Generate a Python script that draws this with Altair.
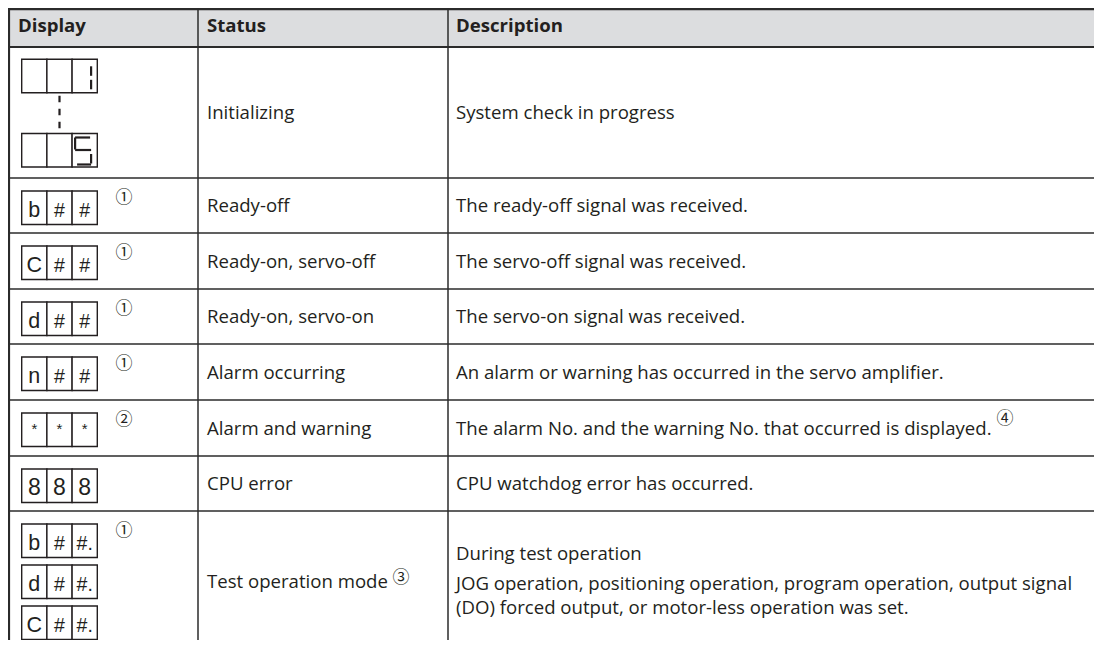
import altair as alt
import pandas as pd

# ---------------- content ----------------
headers = ["Display", "Status", "Description"]

# display column: stacked displays per row, each display = 3 cells
displays = [
    [["", "", "1"], ["", "", "5"]],          # seven-segment sequence 1 ... 5
    [["b", "#", "#"]],
    [["C", "#", "#"]],
    [["d", "#", "#"]],
    [["n", "#", "#"]],
    [["*", "*", "*"]],
    [["8", "8", "8"]],
    [["b", "#", "#."], ["d", "#", "#."], ["C", "#", "#."]],
]
display_notes = ["", "①", "①", "①", "①", "②", "", "①"]
statuses = [
    "Initializing", "Ready-off", "Ready-on, servo-off", "Ready-on, servo-on",
    "Alarm occurring", "Alarm and warning", "CPU error", "Test operation mode",
]
status_notes = ["", "", "", "", "", "", "", "③"]
descriptions = [
    ["System check in progress"],
    ["The ready-off signal was received."],
    ["The servo-off signal was received."],
    ["The servo-on signal was received."],
    ["An alarm or warning has occurred in the servo amplifier."],
    ["The alarm No. and the warning No. that occurred is displayed."],
    ["CPU watchdog error has occurred."],
    ["During test operation",
     "JOG operation, positioning operation, program operation, output signal",
     "(DO) forced output, or motor-less operation was set."],
]
desc_notes = ["", "", "", "", "", "④", "", ""]
seven_seg_rows = [0]               # rows whose digits are drawn as 7-segment
seg_map = {"1": "bc", "5": "afgcd"}

# ---------------- layout (page pixels) ----------------
LEFT, TOP, W, H = 8, 8, 1086, 632
col_lines = [9, 198, 448]
text_x = [18, 207, 456]
header_top, header_bottom = 8, 47
row_edges = [47, 178, 233, 289, 344, 400, 456, 511, 651]
cell_w, cell_h = 25.2, 33.5
box_left = 21.7
box_top_off, box_step = 13, 41
note_x = 124
status_note_pos = {7: (401, 578)}
desc_note_pos = {5: (1005, 419)}
seg_geom = {
    "a": (3, 18, 4, 4), "b": (19, 19, 7, 16.5), "c": (19, 19, 20.5, 30),
    "d": (5, 19, 31, 31), "e": (3, 3, 19, 30), "f": (3, 3, 4, 16),
    "g": (3, 19, 16.5, 16.5),
}
INK = "#231f20"
LINE = "#2b2b2b"
TXT_FONT = "Open Sans"
FS = 18.6

xs = alt.Scale(domain=[LEFT, LEFT + W], nice=False, zero=False)
ys = alt.Scale(domain=[TOP, TOP + H], nice=False, zero=False, reverse=True)

def X(f="x"):
    return alt.X(f"{f}:Q", scale=xs, axis=None)

def Y(f="y"):
    return alt.Y(f"{f}:Q", scale=ys, axis=None)

# ---------------- build tables ----------------
hdr_bg = pd.DataFrame([{"x": col_lines[0], "x2": LEFT + W, "y": header_top, "y2": header_bottom}])

thick_h = pd.DataFrame([{"x": col_lines[0], "x2": LEFT + W, "y": 9, "w": 2.6},
                        {"x": col_lines[0], "x2": LEFT + W, "y": header_bottom, "w": 2.2}])
thin_h = pd.DataFrame([{"x": col_lines[0], "x2": LEFT + W, "y": y} for y in row_edges[1:-1]])
vlines = pd.DataFrame([{"x": cx, "y": header_top, "y2": TOP + H, "w": 2.2 if i == 0 else 1.5}
                       for i, cx in enumerate(col_lines)])

boxes, box_txt, star_txt, segs, connectors, notes, texts, bold = [], [], [], [], [], [], [], []
for r, disp in enumerate(displays):
    top, bot = row_edges[r], row_edges[r + 1]
    center = (top + bot) / 2
    if r in seven_seg_rows:
        tops = [top + 12.3, bot - 11 - cell_h]
    else:
        tops = [top + box_top_off + i * box_step for i in range(len(disp))]
    for bt, cells in zip(tops, disp):
        for c, ch in enumerate(cells):
            cl = box_left + c * cell_w
            boxes.append({"x": cl, "x2": cl + cell_w, "y": bt, "y2": bt + cell_h})
            if not ch:
                continue
            if r in seven_seg_rows:
                for s in seg_map[ch]:
                    x1, x2, y1, y2 = seg_geom[s]
                    segs.append({"x": cl + x1, "x2": cl + x2, "y": bt + y1, "y2": bt + y2})
            elif ch == "*":
                star_txt.append({"x": cl + cell_w / 2, "y": bt + 21, "t": ch})
            else:
                size = 23 if ch.isdigit() else (19.5 if ch.startswith("#") else 21.5)
                box_txt.append({"x": cl + cell_w / 2, "y": bt + 25.5, "t": ch, "s": size})
    if r in seven_seg_rows:
        cx = box_left + 1.5 * cell_w
        connectors.append({"x": cx, "y": tops[0] + cell_h + 3, "y2": tops[1] - 3})
    if display_notes[r]:
        notes.append({"x": note_x, "y": tops[0] + 7, "t": display_notes[r]})
    texts.append({"x": text_x[1], "y": center + 6.5, "t": statuses[r]})
    if status_notes[r]:
        nx, ny = status_note_pos[r]
        notes.append({"x": nx, "y": ny, "t": status_notes[r]})
    lines = descriptions[r]
    if len(lines) == 1:
        texts.append({"x": text_x[2], "y": center + 6.5, "t": lines[0]})
    else:
        b1 = center - 21
        ys_l = [b1] + [b1 + 30 + 24 * (i - 1) for i in range(1, len(lines))]
        for yy, ln in zip(ys_l, lines):
            texts.append({"x": text_x[2], "y": yy, "t": ln})
    if desc_notes[r]:
        nx, ny = desc_note_pos[r]
        notes.append({"x": nx, "y": ny, "t": desc_notes[r]})

for i, h in enumerate(headers):
    bold.append({"x": text_x[i], "y": 32, "t": h})

# ---------------- layers ----------------
layers = [
    alt.Chart(hdr_bg).mark_rect(color="#dcdddf").encode(x=X(), x2="x2:Q", y=Y(), y2="y2:Q"),
    alt.Chart(pd.DataFrame(boxes)).mark_rect(fill="white", stroke=INK, strokeWidth=1.4)
        .encode(x=X(), x2="x2:Q", y=Y(), y2="y2:Q"),
    alt.Chart(thin_h).mark_rule(color=LINE, strokeWidth=1.5).encode(x=X(), x2="x2:Q", y=Y()),
    alt.Chart(thick_h).mark_rule(color=LINE).encode(
        x=X(), x2="x2:Q", y=Y(), strokeWidth=alt.StrokeWidth("w:Q", scale=None, legend=None)),
    alt.Chart(vlines).mark_rule(color=LINE).encode(
        x=X(), y=Y(), y2="y2:Q", strokeWidth=alt.StrokeWidth("w:Q", scale=None, legend=None)),
    alt.Chart(pd.DataFrame(segs)).mark_rule(color=INK, strokeWidth=2.2)
        .encode(x=X(), x2="x2:Q", y=Y(), y2="y2:Q"),
    alt.Chart(pd.DataFrame(connectors)).mark_rule(color=INK, strokeWidth=2.2, strokeDash=[6.5, 6.5])
        .encode(x=X(), y=Y(), y2="y2:Q"),
    alt.Chart(pd.DataFrame(box_txt)).mark_text(align="center", baseline="alphabetic",
                                               font="Liberation Sans", color=INK)
        .encode(x=X(), y=Y(), text="t:N", size=alt.Size("s:Q", scale=None, legend=None)),
    alt.Chart(pd.DataFrame(star_txt)).mark_text(align="center", baseline="alphabetic",
                                                font="Liberation Sans", fontSize=15, color=INK)
        .encode(x=X(), y=Y(), text="t:N"),
    alt.Chart(pd.DataFrame(notes)).mark_text(align="center", baseline="middle",
                                             font="Noto Sans CJK JP", fontSize=17, color=INK)
        .encode(x=X(), y=Y(), text="t:N"),
    alt.Chart(pd.DataFrame(texts)).mark_text(align="left", baseline="alphabetic",
                                             font=TXT_FONT, fontSize=FS, color=INK)
        .encode(x=X(), y=Y(), text="t:N"),
    alt.Chart(pd.DataFrame(bold)).mark_text(align="left", baseline="alphabetic",
                                            font=TXT_FONT, fontSize=FS, fontWeight="bold", color=INK)
        .encode(x=X(), y=Y(), text="t:N"),
]

chart = alt.layer(*layers).properties(
    width=W, height=H, padding=0, autosize=alt.AutoSizeParams(type="none")
).configure_view(stroke=None)

chart.save("out.html", embed_options={"renderer": "svg", "actions": False})
